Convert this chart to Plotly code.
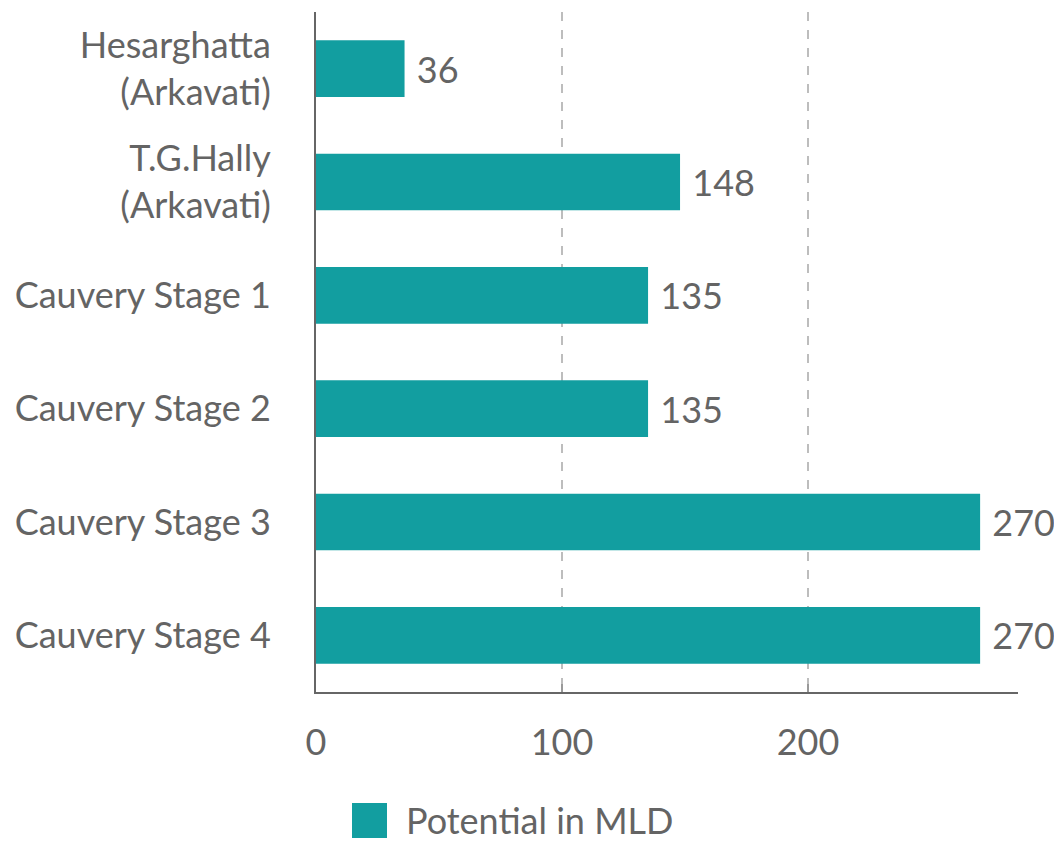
import plotly.graph_objects as go

categories = ["Hesarghatta<br>(Arkavati)", "T.G.Hally<br>(Arkavati)", "Cauvery Stage 1",
              "Cauvery Stage 2", "Cauvery Stage 3", "Cauvery Stage 4"]
values = [36, 148, 135, 135, 270, 270]
series_name = "Potential in MLD"
x_ticks = [0, 100, 200]

TEAL = "#129EA0"
GRAY = "#646464"
FONT = "Lato"
FS = 36

W, H = 1054, 833
L, R, T, B = 308, 44, 4, 149
PW, PH = W - L - R, H - T - B

def font(**kw):
    return dict(family=FONT, size=FS, color=GRAY, weight=400, **kw)

fig = go.Figure()
fig.add_trace(go.Bar(
    y=categories, x=values, orientation="h",
    marker=dict(color=TEAL, line=dict(width=0)),
    text=values, texttemplate=" %{x}", textposition="outside",
    textfont=font(),
    cliponaxis=False, constraintext="none",
    name=series_name, showlegend=False,
))

fig.update_layout(
    width=W, height=H,
    margin=dict(l=L, r=R, t=T, b=B),
    paper_bgcolor="white", plot_bgcolor="white",
    font=font(),
    bargap=0.5,
    xaxis=dict(range=[0, 285.4], tickvals=x_ticks, showgrid=True,
               gridcolor="#bdbdbd", griddash="dash", gridwidth=1.5,
               showline=True, linecolor="#666", linewidth=2,
               ticks="inside", ticklen=8, tickcolor="#999", tickwidth=1.5,
               ticklabelstandoff=18, zeroline=False,
               tickfont=font()),
    yaxis=dict(autorange="reversed", showline=True, linecolor="#666", linewidth=2,
               showgrid=False, ticks="", ticklabelstandoff=36,
               tickfont=font()),
)

# legend drawn as a large swatch + label
def px_x(fx):
    return (fx - L) / PW

def px_y(fy):
    return (T + PH - fy) / PH

fig.add_shape(type="rect", xref="paper", yref="paper",
              x0=px_x(344), x1=px_x(379), y0=px_y(830), y1=px_y(795),
              fillcolor=TEAL, line=dict(width=0))
fig.add_annotation(xref="paper", yref="paper", x=px_x(396), y=px_y(812),
                   text=series_name, showarrow=False, xanchor="left", yanchor="middle",
                   font=font())

fig.write_html("out.html")
